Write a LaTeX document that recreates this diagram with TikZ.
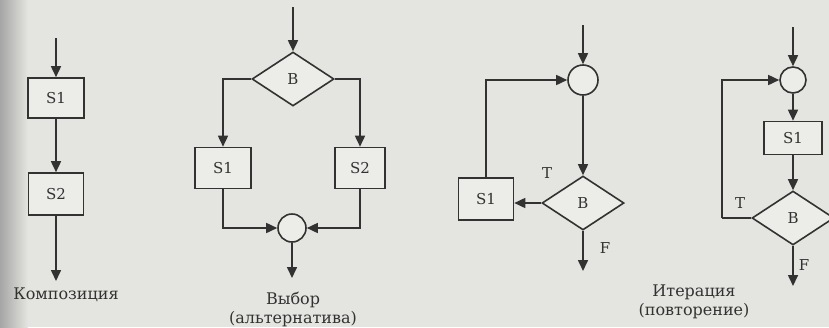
\documentclass[tikz,border=0pt]{standalone}
\usepackage{fontspec}
\setmainfont{DejaVu Serif}
\usetikzlibrary{arrows.meta,shapes.geometric}
\definecolor{paper}{RGB}{228,228,224}
\definecolor{ink}{RGB}{50,50,50}
\tikzset{
  arr/.style={-{Triangle[length=11pt,width=10pt]}, draw=ink, line width=1.6pt},
  ln/.style={draw=ink, line width=1.6pt},
  sbox/.style={draw=ink, line width=1.6pt, fill=paper!70!white, text=ink,
               font=\fontsize{15}{17}\selectfont, inner sep=0pt},
  cond/.style={diamond, draw=ink, line width=1.6pt, fill=paper!70!white, text=ink,
               font=\fontsize{15}{17}\selectfont, inner sep=0pt,
               minimum width=82pt, minimum height=54pt},
  junc/.style={circle, draw=ink, line width=1.6pt, fill=paper!70!white,
               inner sep=0pt},
  lbl/.style={text=ink, font=\fontsize{15}{17}\selectfont, inner sep=0pt},
  capt/.style={text=ink, font=\fontsize{16}{19}\selectfont, align=center, inner sep=0pt},
}

\begin{document}
\begin{tikzpicture}[x=1pt,y=-1pt]
\useasboundingbox (0,0) rectangle (829,327);
\fill[paper] (0,0) rectangle (829,327);
\shade[left color=black!35, right color=paper] (0,0) rectangle (28,327);
% composition
\coordinate (top1) at (56,38);
\node[sbox, minimum width=56pt, minimum height=40pt] (s1a) at (56,98) {S1};
\node[sbox, minimum width=55pt, minimum height=42pt] (s2a) at (56,194) {S2};
\coordinate (end1) at (56,281);
\node[capt] (komp) at (66,295) {Композиция};
\draw[arr] (top1) -- (s1a);
\draw[arr] (s1a) -- (s2a);
\draw[arr] (s2a) -- (end1);
% choice
\coordinate (top2) at (293,7);
\node[cond] (b2) at (293,79) {B};
\node[sbox, minimum width=56pt, minimum height=41pt] (s1b) at (223,168) {S1};
\node[sbox, minimum width=50pt, minimum height=41pt] (s2b) at (360,168) {S2};
\node[junc, minimum size=28pt] (j2) at (292,228) {};
\coordinate (end2) at (292,278);
\node[capt] (vybor) at (293,309) {Выбор\\(альтернатива)};
\draw[arr] (top2) -- (b2);
\draw[arr] (b2.west) -| (s1b);
\draw[arr] (b2.east) -| (s2b);
\draw[arr] (s1b) |- (j2);
\draw[arr] (s2b) |- (j2);
\draw[arr] (j2) -- (end2);
% iteration, test first
\coordinate (top3) at (583,25);
\node[junc, minimum size=30pt] (j3) at (583,80) {};
\node[cond] (b3) at (583,203) {B};
\node[sbox, minimum width=55pt, minimum height=42pt] (s3) at (486,199) {S1};
\coordinate (end3) at (583,271);
\node[lbl] (t3) at (547,173) {T};
\node[lbl] (f3) at (605,248) {F};
\draw[arr] (top3) -- (j3);
\draw[arr] (j3) -- (b3);
\draw[arr] (b3.west) -- (b3.west -| s3.east);
\draw[arr] (s3.north) |- (j3.west);
\draw[arr] (b3.south) -- (end3);
% iteration, body first
\coordinate (top4) at (793,27);
\node[junc, minimum size=26pt] (j4) at (793,80) {};
\node[sbox, minimum width=58pt, minimum height=33pt] (s4) at (793,138) {S1};
\node[cond] (b4) at (793,218) {B};
\coordinate (back4) at (722,218);
\coordinate (end4) at (793,286);
\node[lbl] (t4) at (740,203) {T};
\node[lbl] (f4) at (804,265) {F};
\node[capt] (iter) at (694,302) {Итерация\\(повторение)};
\draw[arr] (top4) -- (j4);
\draw[arr] (j4) -- (s4);
\draw[arr] (s4) -- (b4);
\draw[ln] (b4.west) -- (back4);
\draw[arr] (back4) |- (j4.west);
\draw[arr] (b4.south) -- (end4);
\end{tikzpicture}
\end{document}
